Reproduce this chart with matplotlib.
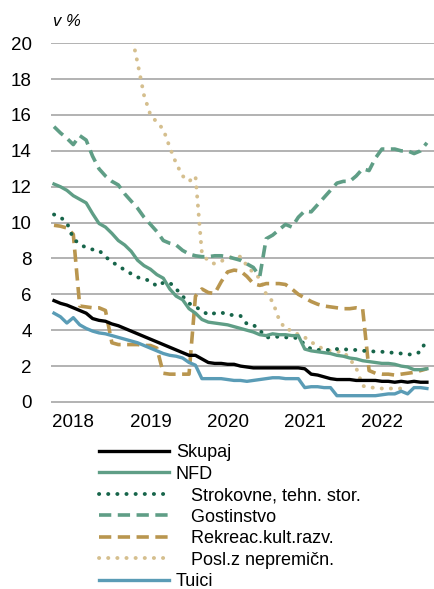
#!/usr/bin/env python3
"""Line chart: shares in % by sector, monthly Oct 2017 - Aug 2022."""

import matplotlib
matplotlib.use("Agg")
import matplotlib.pyplot as plt
import numpy as np

nan = np.nan

# monthly points, first one is Oct 2017
start_year = 2017.75
years = [2018, 2019, 2020, 2021, 2022]

skupaj = [5.65, 5.5, 5.4, 5.25, 5.1, 4.95, 4.65, 4.55, 4.5, 4.35, 4.25, 4.1,
          3.95, 3.8, 3.65, 3.5, 3.35, 3.2, 3.05, 2.9, 2.75, 2.6, 2.6, 2.4,
          2.2, 2.15, 2.15, 2.1, 2.1, 2.0, 1.95, 1.9, 1.9, 1.9, 1.9, 1.9,
          1.9, 1.9, 1.9, 1.85, 1.55, 1.5, 1.4, 1.3, 1.25, 1.25, 1.25, 1.2,
          1.2, 1.2, 1.2, 1.15, 1.15, 1.1, 1.15, 1.1, 1.15, 1.1, 1.1]

nfd = [12.15, 12.0, 11.8, 11.5, 11.3, 11.1, 10.5, 9.95, 9.75, 9.4, 9.0, 8.75,
       8.4, 7.9, 7.6, 7.4, 7.1, 6.9, 6.3, 5.9, 5.7, 5.2, 4.95, 4.6,
       4.45, 4.4, 4.35, 4.3, 4.2, 4.1, 4.0, 3.9, 3.75, 3.7, 3.8, 3.75,
       3.75, 3.7, 3.7, 2.95, 2.85, 2.8, 2.75, 2.7, 2.6, 2.55, 2.45, 2.4,
       2.3, 2.25, 2.2, 2.15, 2.15, 2.1, 2.0, 1.95, 1.8, 1.8, 1.85]

strokovne = [10.45, 10.3, 10.0, 9.1, 8.8, 8.6, 8.5, 8.45, 8.1, 7.8, 7.6, 7.35,
             7.15, 6.95, 6.85, 6.75, 6.45, 6.65, 6.65, 6.3, 5.9, 5.5, 5.3, 5.1,
             4.85, 4.95, 5.0, 4.85, 4.85, 4.8, 4.35, 4.3, 4.0, 3.6, 3.6, 3.65,
             3.6, 3.6, 3.55, 3.2, 2.95, 2.9, 2.9, 2.9, 2.95, 2.95, 2.9, 2.9,
             2.85, 2.85, 2.8, 2.8, 2.75, 2.75, 2.7, 2.65, 2.65, 2.8, 3.5]

gostinstvo = [15.35, 15.0, 14.7, 14.35, 14.85, 14.6, 13.7, 13.0, 12.6, 12.3, 12.1, 11.6,
              11.2, 10.8, 10.3, 9.9, 9.5, 9.0, 8.85, 8.75, 8.45, 8.25, 8.15, 8.1,
              8.1, 8.15, 8.15, 8.1, 8.0, 7.9, 7.7, 7.5, 7.0, 9.1, 9.3, 9.6,
              9.9, 9.75, 10.3, 10.65, 10.6, 11.0, 11.4, 11.8, 12.2, 12.3, 12.3, 12.6,
              13.0, 12.9, 13.6, 14.1, 14.1, 14.1, 14.0, 14.0, 13.85, 14.0, 14.45]

rekreac = [9.85, 9.8, 9.7, 9.35, 5.35, 5.3, 5.25, 5.25, 5.1, 3.3, 3.2, 3.2,
           3.2, 3.2, 3.15, 3.15, 3.0, 1.6, 1.55, 1.55, 1.55, 1.55, 5.9, 6.3,
           6.1, 6.05, 6.7, 7.25, 7.35, 7.3, 7.0, 6.6, 6.5, 6.6, 6.6, 6.6,
           6.55, 6.3, 6.0, 5.8, 5.6, 5.45, 5.35, 5.3, 5.25, 5.2, 5.2, 5.25,
           5.2, 1.75, 1.6, 1.55, 1.55, 1.5, 1.55, 1.6, 1.65, 1.75, 1.85]

posl = [nan, nan, nan, nan, nan, nan, nan, nan, nan, nan, nan, nan,
        20.6, 18.9, 17.1, 16.0, 15.6, 15.2, 14.2, 13.3, 12.6, 12.3, 12.6, 8.3,
        7.85, 7.7, 7.85, 8.0, 8.1, 8.1, 7.6, 7.2, 6.9, 6.0, 5.6, 4.6,
        4.05, 4.0, 3.75, 3.6, 3.35, 3.1, 2.95, 2.85, 2.8, 2.8, 2.4, 1.9,
        0.9, 0.8, 0.8, 0.75, 0.75, 0.75, 0.75, nan, nan, nan, nan]

tujci = [4.95, 4.75, 4.4, 4.7, 4.3, 4.1, 3.95, 3.85, 3.8, 3.7, 3.6, 3.5,
         3.4, 3.3, 3.15, 3.0, 2.85, 2.7, 2.6, 2.55, 2.45, 2.2, 2.05, 1.3,
         1.3, 1.3, 1.3, 1.25, 1.2, 1.2, 1.15, 1.2, 1.25, 1.3, 1.35, 1.35,
         1.3, 1.3, 1.3, 0.8, 0.85, 0.85, 0.8, 0.8, 0.35, 0.35, 0.35, 0.35,
         0.35, 0.35, 0.35, 0.4, 0.45, 0.45, 0.6, 0.45, 0.8, 0.8, 0.75]

plt.rcParams["font.family"] = ["Liberation Sans", "DejaVu Sans"]

x = start_year + np.arange(len(skupaj)) / 12

fig = plt.figure(figsize=(4.34, 5.89), dpi=100)
ax = fig.add_axes([51 / 434, 1 - 402.5 / 589, 383 / 434, 359.8 / 589])

green = "#5f9e86"
dark_green = "#17654a"
gold = "#b9964f"
tan = "#d5bf8e"
blue = "#5a9cb6"

ax.plot(x, posl, color=tan, lw=2.8, linestyle=(0, (0.05, 2.3)),
        dash_capstyle="round", label="   Posl.z nepremičn.", zorder=3)
ax.plot(x, gostinstvo, color=green, lw=2.6, linestyle=(0, (3.4, 1.8)),
        label="   Gostinstvo", zorder=3)
ax.plot(x, rekreac, color=gold, lw=2.6, linestyle=(0, (3.4, 1.8)),
        label="   Rekreac.kult.razv.", zorder=3)
ax.plot(x, strokovne, color=dark_green, lw=2.8, linestyle=(0, (0.05, 2.3)),
        dash_capstyle="round", label="   Strokovne, tehn. stor.", zorder=4)
ax.plot(x, nfd, color=green, lw=2.4, label="NFD", zorder=4)
ax.plot(x, tujci, color=blue, lw=2.4, label="Tuici", zorder=4)
ax.plot(x, skupaj, color="black", lw=2.4, label="Skupaj", zorder=5)

ax.set_xlim(2017.711, 2022.675)
ax.set_ylim(-0.03, 20.03)
ax.set_yticks(range(0, 21, 2))
ax.set_xticks(years)
ax.set_xticklabels([str(y) for y in years])
ax.grid(axis="y", color="#a6a6a6", lw=1.2)
ax.set_axisbelow(True)
for s in ax.spines.values():
    s.set_visible(False)
ax.tick_params(axis="y", length=0, pad=14, labelsize=13.5)
ax.tick_params(axis="x", length=0, pad=8, labelsize=13.5)

fig.text(53 / 434, 1 - 22 / 589, "v %", fontsize=12, style="italic",
         va="center", ha="left")

handles, labels = ax.get_legend_handles_labels()
order = ["Skupaj", "NFD", "   Strokovne, tehn. stor.", "   Gostinstvo",
         "   Rekreac.kult.razv.", "   Posl.z nepremičn.", "Tuici"]
hmap = dict(zip(labels, handles))
fig.legend([hmap[k] for k in order], order, loc="upper left",
           bbox_to_anchor=(99 / 434, 1 - 444 / 589), frameon=False,
           fontsize=13, handlelength=3.9, handletextpad=0.35,
           labelspacing=0.25, borderpad=0, borderaxespad=0)

fig.savefig("out.png", dpi=100)
